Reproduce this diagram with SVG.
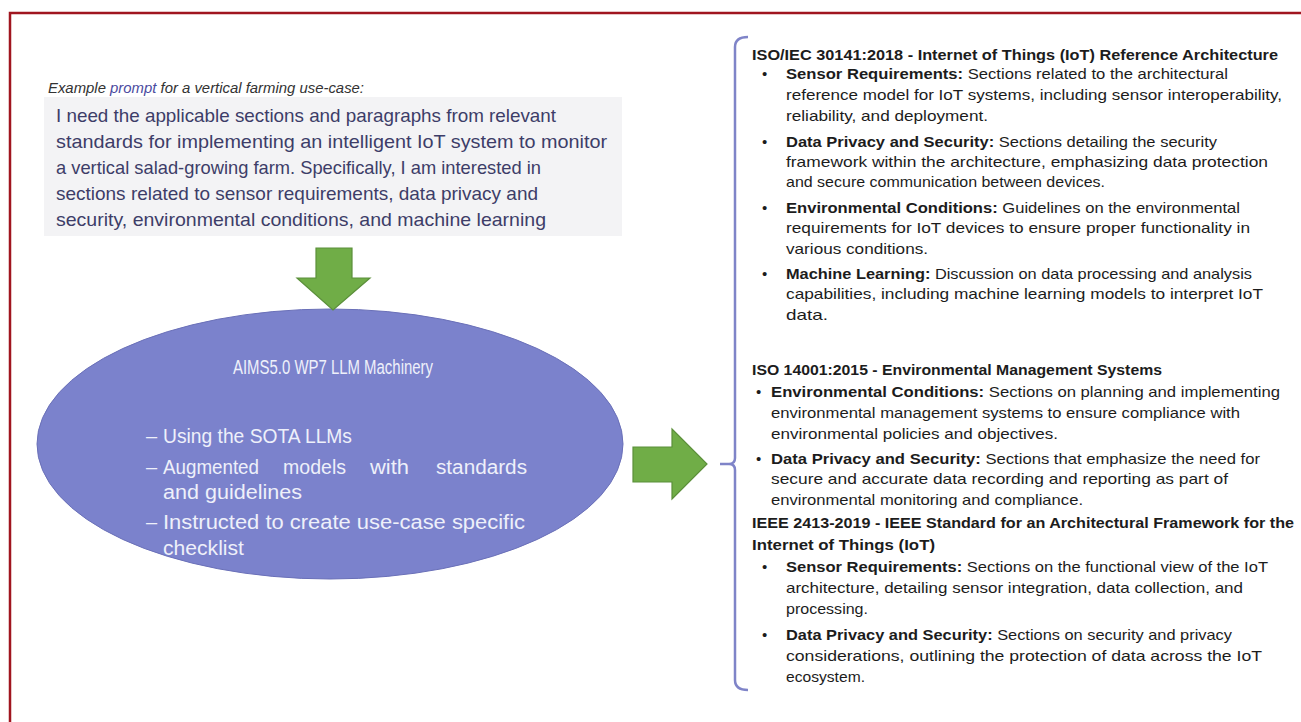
<svg xmlns="http://www.w3.org/2000/svg" width="1301" height="722" viewBox="0 0 1301 722">
<style>
.p{font-family:"Liberation Sans",Arial,sans-serif;font-size:18.5px;fill:#3d3d68}
.e{font-family:"Liberation Sans",Arial,sans-serif;font-size:20px;fill:#eef0fa}
.r{font-family:"Liberation Sans",Arial,sans-serif;font-size:15px;fill:#1c1c1c}
.b{font-weight:bold}
.arrow{fill:#70ad47;stroke:#5b8f3a;stroke-width:1.2}
</style>
<rect width="1301" height="722" fill="#ffffff"/>
<path d="M10,722 V13 H1301" fill="none" stroke="#a0151f" stroke-width="2.5"/>

<g id="prompt">
<text x="48" y="93" font-family="Liberation Sans,Arial,sans-serif" font-size="15.5" font-style="italic" fill="#333" textLength="316" lengthAdjust="spacingAndGlyphs">Example <tspan fill="#4b4ba0">prompt</tspan> for a vertical farming use-case:</text>
<rect x="44" y="97" width="578" height="139" fill="#f3f3f5"/>
<text class="p" x="56" y="122" textLength="500" lengthAdjust="spacingAndGlyphs">I need the applicable sections and paragraphs from relevant</text>
<text class="p" x="56" y="148" textLength="551" lengthAdjust="spacingAndGlyphs">standards for implementing an intelligent IoT system to monitor</text>
<text class="p" x="56" y="174" textLength="485" lengthAdjust="spacingAndGlyphs">a vertical salad-growing farm. Specifically, I am interested in</text>
<text class="p" x="56" y="200" textLength="482" lengthAdjust="spacingAndGlyphs">sections related to sensor requirements, data privacy and</text>
<text class="p" x="56" y="226" textLength="490" lengthAdjust="spacingAndGlyphs">security, environmental conditions, and machine learning</text>
</g>

<g id="machinery">
<ellipse cx="330" cy="444" rx="293" ry="135" fill="#7b82cc" stroke="#6a70b8" stroke-width="1"/>
<text class="e" x="333" y="374" text-anchor="middle" textLength="200" lengthAdjust="spacingAndGlyphs">AIMS5.0 WP7 LLM Machinery</text>
<text class="e" x="146" y="443">–</text>
<text class="e" x="163" y="443" textLength="189" lengthAdjust="spacingAndGlyphs">Using the SOTA LLMs</text>
<text class="e" x="146" y="474">–</text>
<text class="e" x="163" y="474" textLength="96" lengthAdjust="spacingAndGlyphs">Augmented</text>
<text class="e" x="283" y="474" textLength="63" lengthAdjust="spacingAndGlyphs">models</text>
<text class="e" x="370" y="474" textLength="39" lengthAdjust="spacingAndGlyphs">with</text>
<text class="e" x="436" y="474" textLength="91" lengthAdjust="spacingAndGlyphs">standards</text>
<text class="e" x="163" y="499" textLength="139" lengthAdjust="spacingAndGlyphs">and guidelines</text>
<text class="e" x="146" y="529">–</text>
<text class="e" x="163" y="529" textLength="362" lengthAdjust="spacingAndGlyphs">Instructed to create use-case specific</text>
<text class="e" x="163" y="555" textLength="81" lengthAdjust="spacingAndGlyphs">checklist</text>
</g>

<g id="connectors">
<path class="arrow" d="M316,248 H352 V278 H370 L333,310 L297,278 H316 Z"/>
<path class="arrow" d="M633,447 H672 V429 L707,464 L672,499 V482 H633 Z"/>
<path d="M748,37 Q735,37 735,47 V458 Q735,464 729,464 H720 M729,464 Q735,464 735,470 V680 Q735,690 748,690" fill="none" stroke="#7f84c8" stroke-width="2.5"/>
</g>

<g id="standards">
<text class="r b" x="752" y="60" textLength="526" lengthAdjust="spacingAndGlyphs">ISO/IEC 30141:2018 - Internet of Things (IoT) Reference Architecture</text>
<text class="r" x="762" y="79">•</text>
<text class="r" x="786" y="79" textLength="442" lengthAdjust="spacingAndGlyphs"><tspan class="b">Sensor Requirements:</tspan> Sections related to the architectural</text>
<text class="r" x="786" y="100" textLength="496" lengthAdjust="spacingAndGlyphs">reference model for IoT systems, including sensor interoperability,</text>
<text class="r" x="786" y="121" textLength="202" lengthAdjust="spacingAndGlyphs">reliability, and deployment.</text>
<text class="r" x="762" y="147">•</text>
<text class="r" x="786" y="147" textLength="431" lengthAdjust="spacingAndGlyphs"><tspan class="b">Data Privacy and Security:</tspan> Sections detailing the security</text>
<text class="r" x="786" y="167" textLength="482" lengthAdjust="spacingAndGlyphs">framework within the architecture, emphasizing data protection</text>
<text class="r" x="786" y="187" textLength="319" lengthAdjust="spacingAndGlyphs">and secure communication between devices.</text>
<text class="r" x="762" y="213">•</text>
<text class="r" x="786" y="213" textLength="454" lengthAdjust="spacingAndGlyphs"><tspan class="b">Environmental Conditions:</tspan> Guidelines on the environmental</text>
<text class="r" x="786" y="233" textLength="464" lengthAdjust="spacingAndGlyphs">requirements for IoT devices to ensure proper functionality in</text>
<text class="r" x="786" y="254" textLength="142" lengthAdjust="spacingAndGlyphs">various conditions.</text>
<text class="r" x="762" y="279">•</text>
<text class="r" x="786" y="279" textLength="466" lengthAdjust="spacingAndGlyphs"><tspan class="b">Machine Learning:</tspan> Discussion on data processing and analysis</text>
<text class="r" x="786" y="299" textLength="477" lengthAdjust="spacingAndGlyphs">capabilities, including machine learning models to interpret IoT</text>
<text class="r" x="786" y="320" textLength="42" lengthAdjust="spacingAndGlyphs">data.</text>

<text class="r b" x="752" y="375" textLength="410" lengthAdjust="spacingAndGlyphs">ISO 14001:2015 - Environmental Management Systems</text>
<text class="r" x="756" y="397">•</text>
<text class="r" x="771" y="397" textLength="509" lengthAdjust="spacingAndGlyphs"><tspan class="b">Environmental Conditions:</tspan> Sections on planning and implementing</text>
<text class="r" x="771" y="418" textLength="469" lengthAdjust="spacingAndGlyphs">environmental management systems to ensure compliance with</text>
<text class="r" x="771" y="439" textLength="287" lengthAdjust="spacingAndGlyphs">environmental policies and objectives.</text>
<text class="r" x="756" y="464">•</text>
<text class="r" x="771" y="464" textLength="489" lengthAdjust="spacingAndGlyphs"><tspan class="b">Data Privacy and Security:</tspan> Sections that emphasize the need for</text>
<text class="r" x="771" y="484" textLength="457" lengthAdjust="spacingAndGlyphs">secure and accurate data recording and reporting as part of</text>
<text class="r" x="771" y="505" textLength="312" lengthAdjust="spacingAndGlyphs">environmental monitoring and compliance.</text>

<text class="r b" x="752" y="528" textLength="542" lengthAdjust="spacingAndGlyphs">IEEE 2413-2019 - IEEE Standard for an Architectural Framework for the</text>
<text class="r b" x="752" y="550" textLength="183" lengthAdjust="spacingAndGlyphs">Internet of Things (IoT)</text>
<text class="r" x="762" y="572">•</text>
<text class="r" x="786" y="572" textLength="482" lengthAdjust="spacingAndGlyphs"><tspan class="b">Sensor Requirements:</tspan> Sections on the functional view of the IoT</text>
<text class="r" x="786" y="593" textLength="457" lengthAdjust="spacingAndGlyphs">architecture, detailing sensor integration, data collection, and</text>
<text class="r" x="786" y="614" textLength="82" lengthAdjust="spacingAndGlyphs">processing.</text>
<text class="r" x="762" y="640">•</text>
<text class="r" x="786" y="640" textLength="446" lengthAdjust="spacingAndGlyphs"><tspan class="b">Data Privacy and Security:</tspan> Sections on security and privacy</text>
<text class="r" x="786" y="661" textLength="476" lengthAdjust="spacingAndGlyphs">considerations, outlining the protection of data across the IoT</text>
<text class="r" x="786" y="682" textLength="79" lengthAdjust="spacingAndGlyphs">ecosystem.</text>
</g>
</svg>
